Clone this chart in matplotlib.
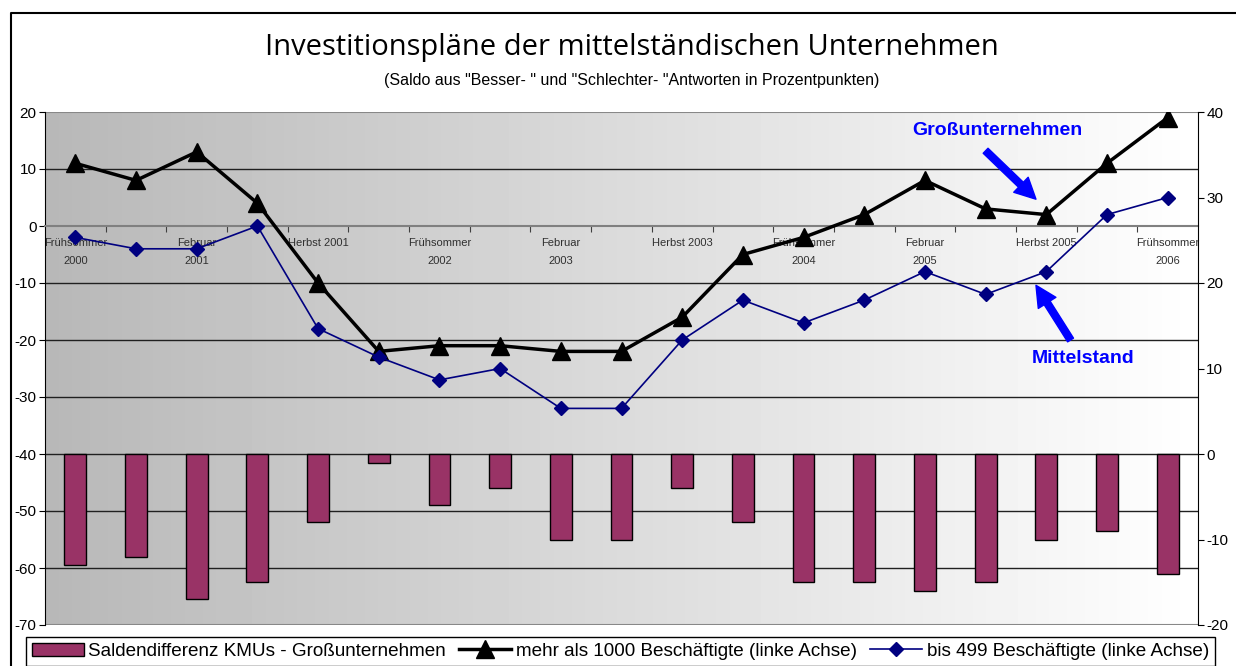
import matplotlib.pyplot as plt
import numpy as np
from matplotlib.lines import Line2D

categories = ["Frühsommer 2000", "Herbst 2000", "Februar 2001", "Frühsommer 2001",
              "Herbst 2001", "Februar 2002", "Frühsommer 2002", "Herbst 2002",
              "Februar 2003", "Frühsommer 2003", "Herbst 2003", "Februar 2004",
              "Frühsommer 2004", "Herbst 2004", "Februar 2005", "Frühsommer 2005",
              "Herbst 2005", "Februar 2006", "Frühsommer 2006"]
tick_labels = ["Frühsommer\n2000", "Februar\n2001", "Herbst 2001\n", "Frühsommer\n2002",
               "Februar\n2003", "Herbst 2003\n", "Frühsommer\n2004", "Februar\n2005",
               "Herbst 2005\n", "Frühsommer\n2006"]
gross = [11, 8, 13, 4, -10, -22, -21, -21, -22, -22, -16, -5, -2, 2, 8, 3, 2, 11, 19]
mittel = [-2, -4, -4, 0, -18, -23, -27, -25, -32, -32, -20, -13, -17, -13, -8, -12, -8, 2, 5]
saldo = [-13, -12, -17, -15, -8, -1, -6, -4, -10, -10, -4, -8, -15, -15, -16, -15, -10, -9, -14]

plt.rcParams['font.family'] = ['Liberation Sans', 'DejaVu Sans']
plt.rcParams['axes.unicode_minus'] = False

fig = plt.figure(figsize=(12.36, 6.66), dpi=100)
W, H = 1236, 666
pos = [45 / W, 1 - 625 / H, (1198 - 45) / W, (625 - 112) / H]
x = np.arange(len(categories))

# bottom axes: gradient, grid, category axis
ax = fig.add_axes(pos)
ax.set_xlim(-0.5, len(categories) - 0.5)
ax.set_ylim(-70, 20)
grad = np.linspace(0.72, 1.0, 256).reshape(1, -1)
ax.imshow(grad, cmap='gray', vmin=0, vmax=1, aspect='auto',
          extent=[-0.5, len(categories) - 0.5, -70, 20], zorder=0)
for v in [10, -10, -20, -30, -40, -50, -60]:
    ax.axhline(v, color='#202020', lw=1, zorder=1)
ax.axhline(20, color='#888888', lw=1.5, zorder=1)
ax.axhline(-70, color='#888888', lw=1.5, zorder=1)
ax.spines['top'].set_visible(False)
ax.spines['right'].set_visible(False)
ax.spines['bottom'].set_position(('data', 0))
ax.spines['bottom'].set_color('#808080')
ax.spines['bottom'].set_linewidth(1.5)
ax.spines['left'].set_color('black')
ax.set_yticks(np.arange(-70, 21, 10))
ax.tick_params(axis='y', labelsize=11, length=4, pad=2)
ax.set_xticks(x[:-1] + 0.5)
ax.set_xticklabels([])
ax.tick_params(axis='x', which='major', direction='out', length=4, color='#404040')
ax.set_xticks(x[::2], minor=True)
ax.set_xticklabels(tick_labels, minor=True, fontsize=8, linespacing=1.9,
                   color='#303030', family=['Liberation Sans', 'DejaVu Sans'])
ax.tick_params(axis='x', which='minor', length=0, pad=9)

# right axes: bars
ax2 = ax.twinx()
ax2.set_ylim(-20, 40)
bars = ax2.bar(x, saldo, width=0.36, color='#993366', edgecolor='black', lw=1,
               label='Saldendifferenz KMUs - Großunternehmen', zorder=2)
ax2.set_yticks(np.arange(-20, 41, 10))
ax2.tick_params(axis='y', labelsize=11, length=4, pad=2)
for s in ['top', 'bottom', 'left']:
    ax2.spines[s].set_visible(False)
ax2.spines['right'].set_color('black')

# top axes: lines on left scale
ax3 = ax.twinx()
ax3.set_ylim(-70, 20)
ax3.axis('off')
l1, = ax3.plot(x, gross, color='black', lw=2.5, marker='^', markersize=13,
               label='mehr als 1000 Beschäftigte (linke Achse)', zorder=3)
l2, = ax3.plot(x, mittel, color='#000080', lw=1.2, marker='D', markersize=7,
               label='bis 499 Beschäftigte (linke Achse)', zorder=3)

arrow = dict(facecolor='#0000ff', edgecolor='#0000ff', width=5, headwidth=15,
             headlength=15, shrink=0)
ax3.annotate('', xy=(15.83, 4.7), xytext=(15.0, 13.2), arrowprops=arrow)
ax3.annotate('', xy=(15.83, -10.4), xytext=(16.4, -20.0), arrowprops=arrow)
ax3.text(15.2, 16.7, 'Großunternehmen', color='#0000ff', fontsize=14,
         fontweight='bold', ha='center', va='center')
ax3.text(16.6, -23.2, 'Mittelstand', color='#0000ff', fontsize=14,
         fontweight='bold', ha='center', va='center')

fig.text(632 / W, 1 - 47 / H, 'Investitionspläne der mittelständischen Unternehmen',
         family=['Open Sans', 'DejaVu Sans'], fontsize=21, ha='center', va='center')
fig.text(632 / W, 1 - 80 / H,
         '(Saldo aus "Besser- " und "Schlechter- "Antworten in Prozentpunkten)',
         fontsize=11.5, ha='center', va='center')

# outer frame
fig.add_artist(Line2D([11 / W, 11 / W, 1.0], [0, 1 - 13 / H, 1 - 13 / H],
                      color='black', lw=1.5, transform=fig.transFigure))

handles = [bars, l1, l2]
labels = ['Saldendifferenz KMUs - Großunternehmen',
          'mehr als 1000 Beschäftigte (linke Achse)',
          'bis 499 Beschäftigte (linke Achse)']
leg = fig.legend(handles, labels, loc='upper left',
                 bbox_to_anchor=(26 / W, 1 - 637 / H), ncol=3, fontsize=13.6,
                 frameon=True, fancybox=False, edgecolor='black', framealpha=1,
                 handlelength=2.75, handletextpad=0.25, columnspacing=0.7,
                 borderpad=0.3, borderaxespad=0)
leg.get_frame().set_linewidth(1)

fig.savefig('out.png', dpi=100)
